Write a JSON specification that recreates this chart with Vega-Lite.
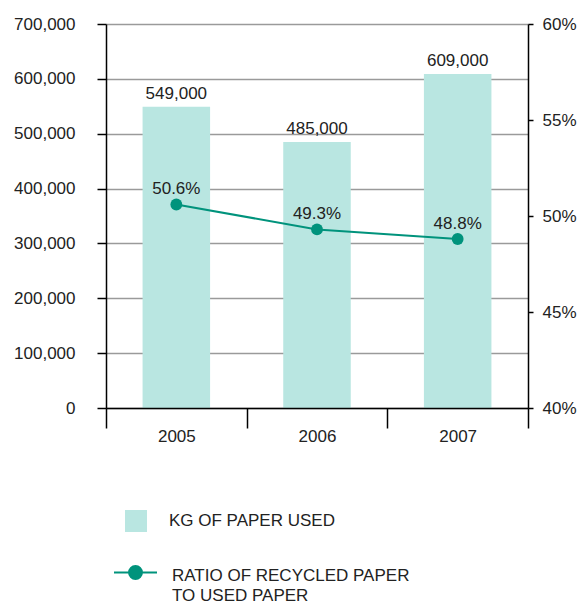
{
  "$schema": "https://vega.github.io/schema/vega-lite/v6.json",
  "autosize": "none",
  "width": 422,
  "height": 384,
  "padding": {"left": 106, "top": 24, "right": 50, "bottom": 198},
  "background": "white",
  "config": {
    "font": "Liberation Sans",
    "view": {"stroke": null},
    "axis": {"labelFont": "Liberation Sans", "labelFontSize": 17, "labelColor": "#222", "titleFontSize": 17},
    "style": {"guide-label": {"lineHeight": 20}}
  },
  "data": {
    "values": [
      {"year": "2005", "kg": 549000, "ratio": 0.506},
      {"year": "2006", "kg": 485000, "ratio": 0.493},
      {"year": "2007", "kg": 609000, "ratio": 0.488}
    ]
  },
  "encoding": {
    "x": {
      "field": "year",
      "type": "nominal",
      "scale": {"paddingInner": 0, "paddingOuter": 0},
      "axis": {
        "title": null,
        "labelAngle": 0,
        "tickBand": "extent",
        "domainColor": "#000",
        "domainWidth": 1.5,
        "tickColor": "#000",
        "tickWidth": 1.5,
        "tickSize": 20,
        "labelPadding": 0,
        "zindex": 2
      }
    }
  },
  "layer": [
    {
      "encoding": {
        "y": {
          "field": "kg",
          "type": "quantitative",
          "scale": {"domain": [0, 700000], "nice": false},
          "axis": {
            "title": null,
            "values": [0, 100000, 200000, 300000, 400000, 500000, 600000, 700000],
            "labelExpr": "format(datum.value, ',')",
            "grid": true,
            "gridColor": "#9a9a9a",
            "gridWidth": 1.5,
            "domainColor": "#000",
            "domainWidth": 1.5,
            "tickColor": "#000",
            "tickWidth": 1.5,
            "tickSize": 9,
            "labelPadding": 22
          }
        }
      },
      "layer": [
        {
          "mark": {"type": "bar", "width": {"band": 0.48}},
          "encoding": {
            "fill": {
              "datum": "KG OF PAPER USED",
              "type": "nominal",
              "scale": {"range": ["#b9e6e1"]},
              "legend": {
                "title": null,
                "orient": "none",
                "legendX": 19,
                "legendY": 486,
                "symbolType": "square",
                "symbolSize": 484,
                "symbolStrokeWidth": 0,
                "labelFontSize": 17,
                "labelColor": "#222",
                "labelOffset": 22,
                "labelLimit": 400,
                "padding": 0
              }
            }
          }
        },
        {
          "mark": {"type": "text", "baseline": "alphabetic", "dy": -8, "fontSize": 17, "color": "#222"},
          "encoding": {"text": {"field": "kg", "type": "quantitative", "format": ","}}
        }
      ]
    },
    {
      "encoding": {
        "y": {
          "field": "ratio",
          "type": "quantitative",
          "scale": {"domain": [0.4, 0.6], "nice": false},
          "axis": {
            "title": null,
            "orient": "right",
            "values": [0.4, 0.45, 0.5, 0.55, 0.6],
            "format": ".0%",
            "grid": false,
            "domainColor": "#000",
            "domainWidth": 1.5,
            "tickColor": "#000",
            "tickWidth": 1.5,
            "tickSize": 5,
            "labelPadding": 9
          }
        }
      },
      "layer": [
        {
          "mark": {"type": "line", "strokeWidth": 2},
          "encoding": {
            "stroke": {
              "datum": "RATIO OF RECYCLED PAPER TO USED PAPER",
              "type": "nominal",
              "scale": {"range": ["#00937c"]},
              "legend": {
                "title": null,
                "orient": "none",
                "legendX": 7,
                "legendY": 529,
                "symbolType": "M-1,-0.14H1M-0.3,-0.14A0.3,0.3 0 1,1 0.3,-0.14A0.3,0.3 0 1,1 -0.3,-0.14Z",
                "symbolSize": 1849,
                "symbolStrokeWidth": 2,
                "symbolFillColor": "#00937c",
                "labelExpr": "datum.label == 'RATIO OF RECYCLED PAPER TO USED PAPER' ? ['RATIO OF RECYCLED PAPER', 'TO USED PAPER'] : datum.label",
                "labelFontSize": 17,
                "labelColor": "#222",
                "labelOffset": 14,
                "labelLimit": 400,
                "padding": 0
              }
            }
          }
        },
        {
          "mark": {"type": "point", "filled": true, "size": 140, "opacity": 1, "color": "#00937c"}
        },
        {
          "mark": {"type": "text", "baseline": "alphabetic", "dy": -10, "fontSize": 17, "color": "#222"},
          "encoding": {"text": {"field": "ratio", "type": "quantitative", "format": ".1%"}}
        }
      ]
    }
  ],
  "resolve": {"scale": {"y": "independent", "fill": "independent", "stroke": "independent"}}
}
